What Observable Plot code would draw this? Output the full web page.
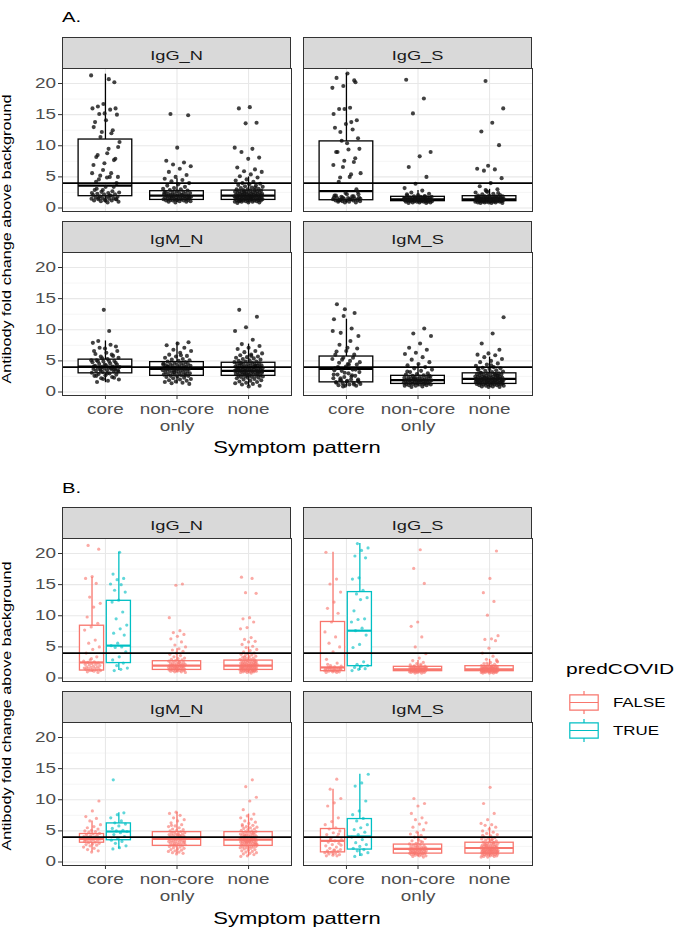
<!DOCTYPE html>
<html>
<head>
<meta charset="utf-8">
<script src="https://cdn.jsdelivr.net/npm/d3@7"></script>
<script src="https://cdn.jsdelivr.net/npm/@observablehq/plot@0.6"></script>
<style>
  html,body{margin:0;padding:0;background:#fff;}
  #root{position:relative;width:686px;height:932px;overflow:hidden;background:#fff;font-family:"Liberation Sans",Arial,Helvetica,sans-serif;}
  .cell{position:absolute;}
</style>
</head>
<body>
<div id="root"></div>
<script>
// ---------------- data ----------------
const categories = ["core", "non-core only", "none"];
const tickLabels = ["core", "non-core\nonly", "none"];
const antibodies = ["IgG_N", "IgG_S", "IgM_N", "IgM_S"];
const predCOVID = ["FALSE", "TRUE"];
const yTicks = [0, 5, 10, 15, 20];
const threshold = 4;

const IgG_N_core_false = [21.3, 20.7, 16.3, 16.0, 15.2, 13.0, 12.0, 11.4, 9.8, 8.8, 8.2, 7.7, 6.1, 5.6, 5.0, 4.6, 4.0, 3.4, 2.9, 2.7, 2.6, 2.5, 2.4, 2.3, 2.2, 2.2, 2.1, 2.0, 1.9, 1.8, 1.8, 1.7, 1.6, 1.6, 1.5, 1.5, 1.4, 1.4, 1.3, 1.2, 1.2, 1.1, 1.0, 0.9, 3.1];
const IgG_N_core_true = [20.2, 16.7, 16.0, 15.8, 15.1, 15.0, 14.1, 13.8, 12.5, 12.2, 10.6, 9.5, 8.5, 7.9, 7.2, 6.9, 5.6, 5.2, 5.0, 4.9, 4.2, 3.4, 2.9, 2.4, 2.0, 1.6, 1.4, 1.2];
const IgG_N_noncore = [15.1, 14.9, 9.7, 7.6, 7.3, 7.0, 6.7, 6.3, 5.8, 5.3, 5.0, 4.7, 4.5, 4.3, 4.0, 3.8, 3.6, 3.4, 3.2, 3.1, 3.0, 2.9, 2.8, 2.7, 2.6, 2.6, 2.5, 2.4, 2.4, 2.3, 2.3, 2.2, 2.2, 2.1, 2.1, 2.0, 2.0, 2.0, 1.9, 1.9, 1.8, 1.8, 1.8, 1.7, 1.7, 1.7, 1.6, 1.6, 1.6, 1.5, 1.5, 1.5, 1.4, 1.4, 1.4, 1.3, 1.3, 1.3, 1.2, 1.2, 1.2, 1.1, 1.1, 1.0, 1.0, 0.9, 2.5, 2.1, 1.9, 1.6];
const IgG_N_none = [16.2, 16.0, 13.7, 13.6, 9.7, 9.5, 9.0, 8.1, 7.9, 6.5, 6.2, 5.9, 5.8, 5.4, 5.1, 4.9, 4.6, 4.4, 4.2, 4.0, 3.9, 3.8, 3.7, 3.6, 3.5, 3.4, 3.3, 3.2, 3.1, 3.0, 3.0, 2.9, 2.9, 2.8, 2.8, 2.7, 2.7, 2.6, 2.6, 2.5, 2.5, 2.5, 2.4, 2.4, 2.4, 2.3, 2.3, 2.3, 2.2, 2.2, 2.2, 2.1, 2.1, 2.1, 2.0, 2.0, 2.0, 2.0, 1.9, 1.9, 1.9, 1.9, 1.8, 1.8, 1.8, 1.8, 1.7, 1.7, 1.7, 1.7, 1.6, 1.6, 1.6, 1.6, 1.5, 1.5, 1.5, 1.5, 1.4, 1.4, 1.4, 1.4, 1.3, 1.3, 1.3, 1.3, 1.2, 1.2, 1.2, 1.2, 1.1, 1.1, 1.1, 1.0, 1.0, 1.0, 0.9, 0.9, 0.8, 3.3, 2.6, 2.0, 1.5, 1.2];

const IgG_S_core_false = [20.2, 15.9, 15.1, 13.8, 12.2, 11.2, 10.4, 9.0, 7.4, 6.6, 5.6, 5.0, 4.2, 3.0, 2.4, 2.0, 1.9, 1.8, 1.7, 1.6, 1.6, 1.5, 1.5, 1.4, 1.4, 1.3, 1.3, 1.2, 1.2, 1.2, 1.1, 1.1, 1.0, 1.0, 0.9, 0.9, 1.7, 1.4, 1.3, 2.2];
const IgG_S_core_true = [21.6, 20.9, 20.5, 19.6, 19.3, 16.1, 15.9, 14.1, 13.5, 12.9, 12.6, 10.8, 9.5, 9.4, 9.0, 8.0, 7.6, 6.9, 5.4, 4.9, 2.6, 2.2, 2.0, 1.9, 1.7, 1.5, 1.4, 1.2];
const IgG_S_noncore = [20.6, 17.6, 15.2, 9.0, 8.3, 6.6, 5.0, 3.9, 3.2, 2.8, 2.5, 2.3, 2.1, 2.0, 1.9, 1.9, 1.8, 1.8, 1.7, 1.7, 1.7, 1.6, 1.6, 1.6, 1.6, 1.5, 1.5, 1.5, 1.5, 1.5, 1.4, 1.4, 1.4, 1.4, 1.4, 1.4, 1.3, 1.3, 1.3, 1.3, 1.3, 1.3, 1.2, 1.2, 1.2, 1.2, 1.2, 1.2, 1.1, 1.1, 1.1, 1.1, 1.1, 1.0, 1.0, 1.0, 1.0, 0.9, 0.9, 0.9, 0.8, 0.8, 1.6, 1.5, 1.4, 1.3, 1.2, 1.7, 2.2, 1.9];
const IgG_S_none = [20.4, 16.0, 13.7, 12.3, 10.1, 6.8, 6.3, 6.2, 6.0, 4.8, 4.0, 3.5, 3.0, 2.7, 2.5, 2.3, 2.2, 2.1, 2.0, 2.0, 1.9, 1.9, 1.9, 1.8, 1.8, 1.8, 1.7, 1.7, 1.7, 1.7, 1.6, 1.6, 1.6, 1.6, 1.6, 1.5, 1.5, 1.5, 1.5, 1.5, 1.5, 1.4, 1.4, 1.4, 1.4, 1.4, 1.4, 1.4, 1.3, 1.3, 1.3, 1.3, 1.3, 1.3, 1.3, 1.2, 1.2, 1.2, 1.2, 1.2, 1.2, 1.2, 1.1, 1.1, 1.1, 1.1, 1.1, 1.1, 1.0, 1.0, 1.0, 1.0, 1.0, 0.9, 0.9, 0.9, 0.9, 0.8, 0.8, 0.8, 2.4, 2.6, 1.8, 1.5, 1.3, 1.2, 1.1, 1.6, 1.4, 2.9];

const IgM_N_core_false = [9.8, 8.2, 7.3, 7.0, 6.6, 6.0, 5.7, 5.5, 5.3, 5.1, 5.0, 4.9, 4.8, 4.6, 4.5, 4.4, 4.3, 4.2, 4.1, 4.0, 4.0, 3.9, 3.9, 3.8, 3.8, 3.7, 3.7, 3.6, 3.5, 3.5, 3.4, 3.3, 3.2, 3.1, 3.0, 2.9, 2.8, 2.7, 2.6, 2.4, 2.2, 2.0, 1.8, 1.6, 3.6];
const IgM_N_core_true = [13.2, 7.9, 7.6, 7.1, 6.6, 6.3, 6.1, 5.8, 5.4, 5.1, 5.0, 4.9, 4.7, 4.4, 4.1, 3.8, 3.5, 3.3, 3.0, 2.6, 2.3, 2.1];
const IgM_N_noncore = [8.0, 7.8, 7.5, 7.1, 6.8, 6.6, 6.3, 6.0, 5.8, 5.7, 5.5, 5.3, 5.2, 5.1, 5.0, 4.9, 4.8, 4.7, 4.6, 4.6, 4.5, 4.5, 4.4, 4.3, 4.3, 4.2, 4.2, 4.1, 4.0, 4.0, 3.9, 3.9, 3.8, 3.8, 3.7, 3.7, 3.6, 3.6, 3.5, 3.5, 3.4, 3.4, 3.3, 3.3, 3.2, 3.2, 3.1, 3.0, 3.0, 2.9, 2.9, 2.8, 2.8, 2.7, 2.6, 2.6, 2.5, 2.4, 2.3, 2.2, 2.1, 2.0, 1.9, 1.8, 1.7, 1.6, 1.5, 1.4, 1.3, 3.8, 4.1, 2.7, 3.2, 4.4, 5.9];
const IgM_N_none = [13.2, 12.1, 10.4, 9.8, 8.4, 7.7, 7.4, 7.1, 6.9, 6.6, 6.4, 6.2, 6.0, 5.9, 5.7, 5.6, 5.5, 5.4, 5.3, 5.2, 5.1, 5.0, 4.9, 4.9, 4.8, 4.7, 4.7, 4.6, 4.5, 4.5, 4.4, 4.4, 4.3, 4.3, 4.2, 4.2, 4.1, 4.1, 4.0, 4.0, 4.0, 3.9, 3.9, 3.9, 3.8, 3.8, 3.8, 3.7, 3.7, 3.7, 3.6, 3.6, 3.6, 3.5, 3.5, 3.5, 3.4, 3.4, 3.4, 3.3, 3.3, 3.3, 3.2, 3.2, 3.2, 3.1, 3.1, 3.0, 3.0, 3.0, 2.9, 2.9, 2.8, 2.8, 2.7, 2.7, 2.6, 2.6, 2.5, 2.5, 2.4, 2.4, 2.3, 2.3, 2.2, 2.1, 2.0, 1.9, 1.8, 1.7, 1.6, 1.5, 1.4, 1.3, 1.2, 1.0, 0.9, 3.6, 4.2, 2.9, 3.3, 5.8, 4.6, 3.1, 2.7];

const IgM_S_core_false = [13.3, 11.7, 10.2, 9.5, 9.0, 7.1, 6.5, 6.0, 5.5, 5.3, 5.0, 4.7, 4.4, 4.1, 3.8, 3.6, 3.4, 3.2, 3.0, 2.8, 2.6, 2.4, 2.2, 2.0, 1.9, 1.8, 1.7, 1.6, 1.5, 1.4, 1.3, 1.2, 1.1, 1.0, 1.0, 3.5, 2.7, 1.9, 1.6, 4.5];
const IgM_S_core_true = [14.1, 12.7, 12.2, 9.8, 8.2, 7.6, 7.0, 6.6, 6.0, 5.5, 5.2, 4.8, 4.4, 4.0, 3.6, 3.1, 2.8, 2.5, 2.2, 2.0, 1.8, 1.5, 1.2, 0.9];
const IgM_S_noncore = [10.2, 9.4, 9.0, 7.8, 7.1, 6.8, 6.3, 6.1, 5.6, 5.2, 4.8, 4.5, 4.3, 4.0, 3.8, 3.6, 3.4, 3.2, 3.0, 2.9, 2.8, 2.7, 2.6, 2.5, 2.5, 2.4, 2.4, 2.3, 2.3, 2.2, 2.2, 2.1, 2.1, 2.0, 2.0, 2.0, 1.9, 1.9, 1.9, 1.8, 1.8, 1.8, 1.7, 1.7, 1.7, 1.6, 1.6, 1.6, 1.5, 1.5, 1.5, 1.4, 1.4, 1.4, 1.3, 1.3, 1.3, 1.2, 1.2, 1.1, 1.1, 1.0, 1.0, 0.9, 0.8, 2.6, 1.9, 3.3, 1.4, 2.2];
const IgM_S_none = [12.0, 9.4, 7.8, 6.8, 6.2, 6.0, 5.9, 5.6, 5.3, 5.0, 4.8, 4.6, 4.4, 4.2, 4.0, 3.9, 3.8, 3.7, 3.6, 3.5, 3.4, 3.3, 3.2, 3.1, 3.0, 3.0, 2.9, 2.9, 2.8, 2.8, 2.7, 2.7, 2.6, 2.6, 2.5, 2.5, 2.5, 2.4, 2.4, 2.4, 2.3, 2.3, 2.3, 2.2, 2.2, 2.2, 2.2, 2.1, 2.1, 2.1, 2.1, 2.0, 2.0, 2.0, 2.0, 1.9, 1.9, 1.9, 1.9, 1.8, 1.8, 1.8, 1.8, 1.7, 1.7, 1.7, 1.7, 1.6, 1.6, 1.6, 1.6, 1.5, 1.5, 1.5, 1.5, 1.4, 1.4, 1.4, 1.4, 1.3, 1.3, 1.3, 1.2, 1.2, 1.2, 1.1, 1.1, 1.1, 1.0, 1.0, 0.9, 0.9, 0.8, 0.8, 3.6, 2.8, 2.3, 1.9, 4.3, 3.1, 2.6, 1.7, 2.0, 1.5];

// box statistics [lower whisker, q1, median, q3, upper whisker]
// panel A: core, non-core only, none
const boxA_IgG_N = [[0.8, 1.9, 3.6, 11.0, 21.5], [0.9, 1.3, 2.0, 2.7, 4.7], [0.8, 1.3, 2.0, 2.8, 5.0]];
const boxA_IgG_S = [[0.8, 1.25, 2.7, 10.7, 21.6], [0.8, 1.1, 1.4, 1.8, 2.8], [0.8, 1.1, 1.4, 1.9, 3.0]];
const boxA_IgM_N = [[1.5, 3.0, 4.1, 5.2, 8.2], [1.3, 2.6, 3.7, 4.8, 8.0], [0.9, 2.6, 3.4, 4.7, 7.7]];
const boxA_IgM_S = [[0.9, 1.55, 3.7, 5.7, 11.7], [0.8, 1.3, 1.9, 2.6, 4.5], [0.8, 1.3, 2.1, 3.0, 5.6]];
// panel B: core FALSE, core TRUE, non-core only FALSE, none FALSE
const boxB_IgG_N = [[0.9, 1.2, 2.5, 8.4, 16.2], [1.2, 2.4, 5.2, 12.4, 20.2], [0.9, 1.3, 2.0, 2.7, 4.7], [0.8, 1.3, 2.0, 2.8, 5.0]];
const boxB_IgG_S = [[0.9, 1.1, 1.7, 9.0, 20.2], [1.2, 1.9, 7.6, 13.8, 21.6], [0.8, 1.1, 1.4, 1.8, 2.8], [0.8, 1.1, 1.4, 1.9, 3.0]];
const boxB_IgM_N = [[1.6, 3.1, 3.7, 4.5, 6.6], [2.1, 3.5, 4.9, 6.2, 7.9], [1.3, 2.6, 3.7, 4.8, 8.0], [0.9, 2.6, 3.6, 4.8, 7.7]];
const boxB_IgM_S = [[1.0, 1.55, 3.4, 5.3, 11.7], [0.9, 2.0, 4.1, 6.9, 14.1], [0.8, 1.35, 2.1, 2.8, 4.8], [0.8, 1.35, 2.25, 3.1, 5.6]];

// ---------------- assembly ----------------
const FONT = '"Liberation Sans", Arial, Helvetica, sans-serif';
const K = 1.35; // horizontal text stretch of the reference rendering
const colors = ["#F8766D", "#00BFC4"];

const pointsByAb = {
  IgG_N: [IgG_N_core_false, IgG_N_core_true, IgG_N_noncore, IgG_N_none],
  IgG_S: [IgG_S_core_false, IgG_S_core_true, IgG_S_noncore, IgG_S_none],
  IgM_N: [IgM_N_core_false, IgM_N_core_true, IgM_N_noncore, IgM_N_none],
  IgM_S: [IgM_S_core_false, IgM_S_core_true, IgM_S_noncore, IgM_S_none]
};
const boxesAByAb = {IgG_N: boxA_IgG_N, IgG_S: boxA_IgG_S, IgM_N: boxA_IgM_N, IgM_S: boxA_IgM_S};
const boxesBByAb = {IgG_N: boxB_IgG_N, IgG_S: boxB_IgG_S, IgM_N: boxB_IgM_N, IgM_S: boxB_IgM_S};

const PW = 229, PH = 143;
const colLefts = [62, 303];
const panelTops = {A: [68, 252], B: [538, 722]};
const grid = {IgG_N: [0, 0], IgG_S: [1, 0], IgM_N: [0, 1], IgM_S: [1, 1]};

function jit(i, seed) { return ((i * 0.6180339887 + seed * 0.2718) % 1) - 0.5; }
const statObj = (s, pos, w, grp) => ({pos, w, grp, lo: s[0], q1: s[1], med: s[2], q3: s[3], hi: s[4]});

function buildA(ab, seed) {
  const [cf, ct, nc, nn] = pointsByAb[ab];
  const groups = [cf.concat(ct), nc, nn];
  const pts = [];
  groups.forEach((vals, g) => vals.forEach((v, i) => pts.push({x: g + 1 + jit(i, seed + g) * 0.4, v, grp: "A"})));
  const boxes = boxesAByAb[ab].map((s, g) => statObj(s, g + 1, 0.75, "A"));
  return {pts, boxes};
}
function buildB(ab, seed) {
  const [cf, ct, nc, nn] = pointsByAb[ab];
  const centers = [1 - 0.1875, 1 + 0.1875, 2, 3];
  const grps = ["FALSE", "TRUE", "FALSE", "FALSE"];
  const widths = [0.3375, 0.3375, 0.675, 0.675];
  const pts = [];
  [cf, ct, nc, nn].forEach((vals, g) => vals.forEach((v, i) => pts.push({x: centers[g] + jit(i, seed + g) * 0.24, v, grp: grps[g]})));
  const boxes = boxesBByAb[ab].map((s, g) => statObj(s, centers[g], widths[g], grps[g]));
  return {pts, boxes};
}

// widen glyphs horizontally (reference text is rendered wide); keeps anchors in place
function stretchText(node) {
  node.querySelectorAll("text").forEach(t => {
    let tr = t.getAttribute("transform") || "";
    const x = t.getAttribute("x");
    if (x !== null && /^-?[\d.]+$/.test(x) && parseFloat(x) !== 0) {
      tr += ` translate(${x},0)`;
      t.setAttribute("x", "0");
    }
    t.setAttribute("transform", `${tr} scale(${K},1)`.trim());
  });
}

function panelPlot({pts, boxes}, col, row, colored) {
  const left = col === 0, bottom = row === 1;
  const ml = left ? 62 : 0, mb = bottom ? 44 : 0;
  const strokeC = colored ? "grp" : "#000";
  const marks = [
    Plot.gridY({ticks: [2.5, 7.5, 12.5, 17.5], stroke: "#f0f0f0", strokeOpacity: 1, strokeWidth: 0.7}),
    Plot.gridY({ticks: yTicks, stroke: "#e8e8e8", strokeOpacity: 1, strokeWidth: 1.1}),
    Plot.gridX({ticks: [1, 2, 3], stroke: "#e8e8e8", strokeOpacity: 1, strokeWidth: 1.1}),
    Plot.ruleX(boxes, {x: "pos", y1: "q3", y2: "hi", stroke: strokeC, strokeWidth: 1.3}),
    Plot.ruleX(boxes, {x: "pos", y1: "lo", y2: "q1", stroke: strokeC, strokeWidth: 1.3}),
    Plot.rect(boxes, {x1: d => d.pos - d.w / 2, x2: d => d.pos + d.w / 2, y1: "q1", y2: "q3", fill: "white", stroke: strokeC, strokeWidth: 1.3}),
    Plot.ruleY(boxes, {y: "med", x1: d => d.pos - d.w / 2, x2: d => d.pos + d.w / 2, stroke: strokeC, strokeWidth: 2.2}),
    colored
      ? Plot.dot(pts, {x: "x", y: "v", r: 1.6, fill: "grp", fillOpacity: 0.62, stroke: null})
      : Plot.dot(pts, {x: "x", y: "v", r: 2.05, fill: "#111", fillOpacity: 0.8, stroke: null}),
    Plot.ruleY([threshold], {stroke: "#000", strokeWidth: 1.6}),
    Plot.frame({stroke: "#333", strokeWidth: 1})
  ];
  if (left) marks.push(Plot.axisY({ticks: yTicks, tickSize: 4, tickPadding: 2.5, fontSize: 14, stroke: "#333", fill: "#4d4d4d", label: null}));
  if (bottom) marks.push(Plot.axisX({ticks: [1, 2, 3], tickFormat: i => tickLabels[i - 1], tickSize: 4, tickPadding: 3, fontSize: 14, lineHeight: 1.2, stroke: "#333", fill: "#4d4d4d", label: null}));
  const svg = Plot.plot({
    width: ml + PW, height: PH + mb,
    marginLeft: ml, marginRight: 0, marginTop: 0, marginBottom: mb,
    style: {overflow: "visible", background: "transparent", fontFamily: FONT},
    x: {type: "linear", domain: [0.4, 3.6], label: null, ...(bottom ? {} : {axis: null})},
    y: {domain: [-0.56, 22.41], label: null, ...(left ? {} : {axis: null})},
    color: {domain: predCOVID, range: colors},
    marks
  });
  stretchText(svg);
  return {svg, ml};
}

const root = document.getElementById("root");
function place(node, left, top) {
  const div = document.createElement("div");
  div.className = "cell";
  div.style.left = left + "px";
  div.style.top = top + "px";
  div.style.width = node.getAttribute("width") + "px";
  div.appendChild(node);
  root.appendChild(div);
}

["A", "B"].forEach(sec => {
  antibodies.forEach((ab, ai) => {
    const [col, row] = grid[ab];
    const data = sec === "A" ? buildA(ab, ai * 3) : buildB(ab, ai * 3 + 1);
    const {svg, ml} = panelPlot(data, col, row, sec === "B");
    place(svg, colLefts[col] - ml, panelTops[sec][row]);
  });
});

// legend (Plot, custom box-glyph symbol)
const boxGlyph = {
  draw(ctx, size) {
    const r = Math.sqrt(size / Math.PI), hh = r * 0.53, we = r * 0.81;
    ctx.moveTo(-r, -hh); ctx.lineTo(r, -hh); ctx.lineTo(r, hh); ctx.lineTo(-r, hh); ctx.closePath();
    ctx.moveTo(-r, 0); ctx.lineTo(r, 0);
    ctx.moveTo(0, -hh); ctx.lineTo(0, -we);
    ctx.moveTo(0, hh); ctx.lineTo(0, we);
  }
};
const legendSvg = Plot.plot({
  width: 130, height: 100, margin: 0,
  style: {overflow: "visible", background: "transparent", fontFamily: FONT},
  x: {domain: [0, 1], range: [27.5, 100], axis: null},
  y: {type: "point", domain: predCOVID, range: [51.7, 80], padding: 0, axis: null},
  color: {domain: predCOVID, range: colors},
  marks: [
    Plot.dot(predCOVID, {x: () => 0, y: d => d, symbol: boxGlyph, r: 14.2, stroke: d => d, fill: "white", strokeWidth: 1.2}),
    Plot.text(predCOVID, {x: () => 0, y: d => d, text: d => d, dx: 29, textAnchor: "start", fontSize: 12.5, fill: "#000"})
  ]
});
stretchText(legendSvg);
place(legendSvg, 556, 650);

// overlay: titles, strips, axis titles
const ov = d3.create("svg").attr("width", 686).attr("height", 932)
  .style("position", "absolute").style("left", "0px").style("top", "0px")
  .style("font-family", FONT).style("pointer-events", "none");
function txt(str, x, y, size, anchor = "start", rot = 0, fill = "#000") {
  ov.append("text").text(str).attr("font-size", size).attr("text-anchor", anchor).attr("fill", fill)
    .attr("transform", `translate(${x},${y})${rot ? ` rotate(${rot})` : ""} scale(${K},1)`);
}
["A", "B"].forEach(sec => {
  antibodies.forEach(ab => {
    const [col, row] = grid[ab];
    const top = panelTops[sec][row] - 31;
    ov.append("rect").attr("x", colLefts[col] + 0.5).attr("y", top + 0.5).attr("width", PW - 1).attr("height", 31)
      .attr("fill", "#d9d9d9").attr("stroke", "#333").attr("stroke-width", 1);
    txt(ab, colLefts[col] + PW / 2, top + 22.5, 13.5, "middle", 0, "#1a1a1a");
  });
});
txt("A.", 62, 22, 15);
txt("B.", 62, 493, 15);
txt("Antibody fold change above background", 10.7, 239, 12, "middle", -90);
txt("Antibody fold change above background", 10.7, 706, 12, "middle", -90);
txt("Symptom pattern", 297, 453, 16.3, "middle");
txt("Symptom pattern", 297, 924, 16.3, "middle");
txt("predCOVID", 566, 673.5, 15.5);
root.appendChild(ov.node());
</script>
</body>
</html>
